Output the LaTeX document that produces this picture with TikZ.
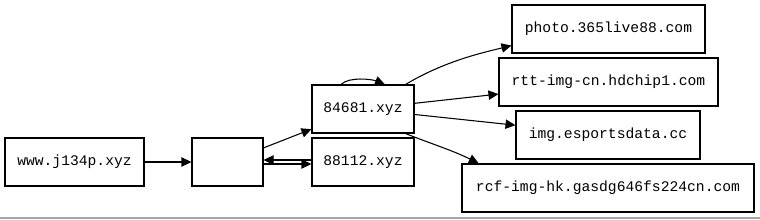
\documentclass[tikz,border=0pt]{standalone}
\usepackage{fontspec}
\setmonofont{Liberation Mono}
\usepackage{xcolor}
\usetikzlibrary{arrows.meta}

\begin{document}
\begin{tikzpicture}[
    x=0.75pt,y=-0.75pt,
    host/.style={draw,line width=0.8pt,inner sep=0pt,minimum height=36pt,font=\ttfamily\fontsize{11}{13}\selectfont},
    arr/.style={-{Triangle[length=7.5pt,width=7pt]},line width=0.8pt}
]
\useasboundingbox (0,0) rectangle (760,219);
\draw[gray!70,line width=1pt] (0,218) -- (760,218);

% left side
\node[host,minimum width=104.25pt] (www) at (74.5,162) {www.j134p.xyz};
\node[host,minimum width=53.25pt] (mid) at (227.5,162) {};
\node[host,minimum width=76.5pt] (hub) at (363,109) {84681.xyz};
\node[host,minimum width=76.5pt] (alt) at (363,162) {88112.xyz};

% right side
\node[host,minimum width=144.75pt] (photo) at (608.5,29) {photo.365live88.com};
\node[host,minimum width=164.25pt] (rtt) at (608.5,82) {rtt-img-cn.hdchip1.com};
\node[host,minimum width=138pt] (img) at (608,135) {img.esportsdata.cc};
\node[host,minimum width=219pt] (rcf) at (608,188) {rcf-img-hk.gasdg646fs224cn.com};

\draw[arr] (www) -- (mid);
\draw[arr] (mid) -- (hub);
\draw[arr] ([yshift=-1.5pt]mid.east) -- ([yshift=-1.5pt]alt.west);
\draw[arr] ([yshift=1.5pt]alt.west) -- ([yshift=1.5pt]mid.east);
\draw[arr] ([xshift=-16.5pt]hub.north) .. controls +(6pt,6pt) and +(-10pt,4pt) .. ([xshift=16.5pt]hub.north);
\draw[arr] ([xshift=-6.75pt]hub.north east) .. controls +(30pt,18pt) and +(-20pt,-5pt) .. ([yshift=6pt]photo.south west);
\draw[arr] (hub) -- (rtt);
\draw[arr] (hub) -- (img);
\draw[arr] ([xshift=-6.75pt]hub.south east) .. controls +(20pt,-8pt) and +(-20pt,10pt) .. ([xshift=13pt]rcf.north west);
\end{tikzpicture}
\end{document}
